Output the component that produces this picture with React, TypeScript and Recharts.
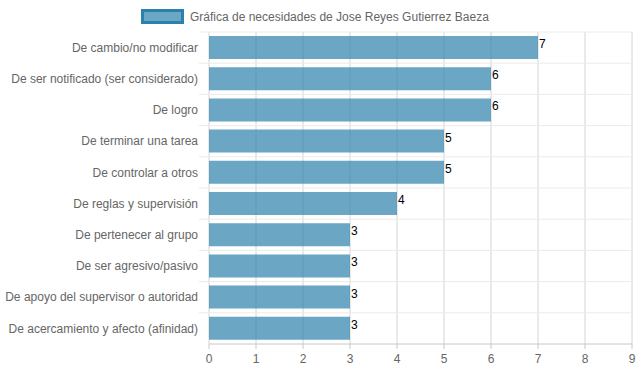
import { BarChart, Bar, XAxis, YAxis, CartesianGrid, LabelList } from 'recharts';

const categories = [
  'De cambio/no modificar',
  'De ser notificado (ser considerado)',
  'De logro',
  'De terminar una tarea',
  'De controlar a otros',
  'De reglas y supervisión',
  'De pertenecer al grupo',
  'De ser agresivo/pasivo',
  'De apoyo del supervisor o autoridad',
  'De acercamiento y afecto (afinidad)',
];
const values = [7, 6, 6, 5, 5, 4, 3, 3, 3, 3];
const xTicks = [0, 1, 2, 3, 4, 5, 6, 7, 8, 9];
const seriesName = 'Gráfica de necesidades de Jose Reyes Gutierrez Baeza';

const chartData = categories.map((name, i) => ({ name, value: values[i] }));

const W = 639;
const H = 372;
const margin = { top: 32, right: 7, bottom: 0, left: 0 };
const xAxisHeight = 28;
const band = (H - margin.top - margin.bottom - xAxisHeight) / categories.length;

const fill = 'rgba(44,128,172,0.7)';
const border = '#2c80ac';
const font = '"Liberation Sans", Arial, Helvetica, sans-serif';

const CategoryTick = (props: any) => {
  const { x, y, payload } = props;
  return (
    <g>
      <line x1={x + 1} x2={x + 11} y1={y - band / 2} y2={y - band / 2} stroke="#ebebeb" />
      <text x={x} y={y} dy="0.35em" textAnchor="end" fontSize={12} fill="#666" fontFamily={font}>
        {payload.value}
      </text>
    </g>
  );
};

const ValueLabel = (props: any) => {
  const { x, y, width, value } = props;
  return (
    <text x={x + width + 1} y={y + 12} fontSize={12} fill="#000" fontFamily={font}>
      {value}
    </text>
  );
};

export default function App() {
  return (
    <div style={{ position: 'absolute', left: 0, top: 0, width: W, height: H, fontFamily: font }}>
      <div
        style={{
          position: 'absolute',
          left: 141,
          top: 9,
          display: 'flex',
          alignItems: 'center',
          fontSize: 12,
          color: '#666',
        }}
      >
        <div
          style={{
            width: 43,
            height: 15,
            boxSizing: 'border-box',
            border: `3px solid ${border}`,
            background: fill,
            marginRight: 6,
          }}
        />
        <span>{seriesName}</span>
      </div>
      <BarChart width={W} height={H} data={chartData} layout="vertical" margin={margin}>
        <CartesianGrid
          stroke="#d4d4d4"
          horizontal={false}
          vertical
        />
        <CartesianGrid
          stroke="#ebebeb"
          vertical={false}
          horizontalCoordinatesGenerator={({ offset }: any) =>
            Array.from({ length: categories.length }, (_, i) => offset.top + i * band)
          }
        />
        <XAxis
          type="number"
          domain={[0, 9]}
          ticks={xTicks}
          interval={0}
          height={xAxisHeight}
          tickSize={5}
          tickMargin={5}
          stroke="#c8c8c8"
          tick={{ fill: '#666', fontSize: 12, fontFamily: font }}
        />
        <YAxis
          type="category"
          dataKey="name"
          width={209}
          interval={0}
          tickLine={false}
          axisLine={false}
          tickSize={0}
          tickMargin={11}
          tick={<CategoryTick />}
        />
        <Bar dataKey="value" fill={fill} barSize={23} isAnimationActive={false}>
          <LabelList dataKey="value" content={<ValueLabel />} />
        </Bar>
      </BarChart>
    </div>
  );
}
